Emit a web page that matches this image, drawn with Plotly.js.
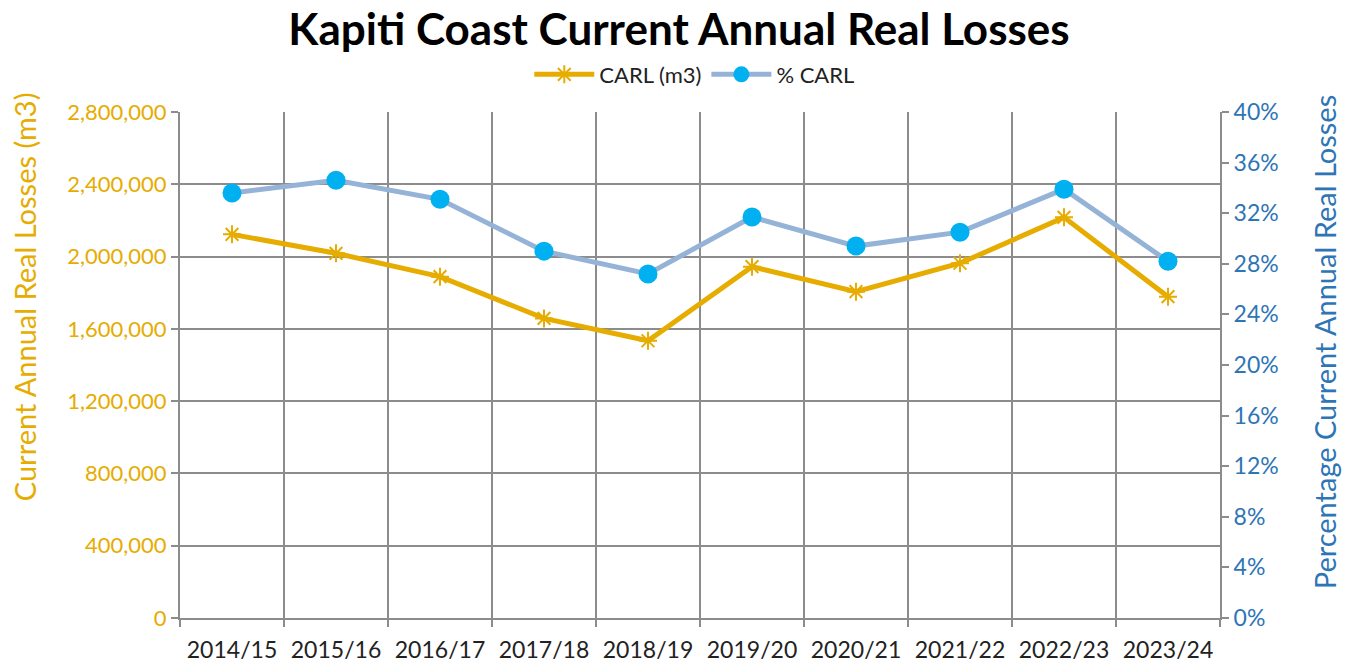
<!DOCTYPE html>
<html>
<head>
<meta charset="utf-8">
<script src="https://cdn.plot.ly/plotly-3.0.1.min.js"></script>
<style>
html,body{margin:0;padding:0;background:#fff;}
#chart{width:1358px;height:668px;}
</style>
</head>
<body>
<div id="chart"></div>
<script>
const years = ["2014/15","2015/16","2016/17","2017/18","2018/19","2019/20","2020/21","2021/22","2022/23","2023/24"];
const carl = [2123000, 2018000, 1889000, 1658000, 1534000, 1944000, 1806000, 1963000, 2217000, 1778000];
const pctCarl = [0.336, 0.346, 0.331, 0.290, 0.272, 0.317, 0.294, 0.305, 0.339, 0.282];
const leftTicks = [0, 400000, 800000, 1200000, 1600000, 2000000, 2400000, 2800000];
const rightTicks = [0, 0.04, 0.08, 0.12, 0.16, 0.20, 0.24, 0.28, 0.32, 0.36, 0.40];

const FONT = "Lato, 'Open Sans', sans-serif";
const GOLD = "#E6AC00";
const BLUE = "#2E75B6";
const GRID = "#8C8C8C";

const traces = [
  {
    x: years, y: carl, name: "CARL (m3)", type: "scatter", mode: "lines+markers",
    line: {color: GOLD, width: 5},
    marker: {symbol: "asterisk-open", size: 15, color: GOLD, line: {color: GOLD, width: 2}},
    yaxis: "y"
  },
  {
    x: years, y: pctCarl, name: "% CARL", type: "scatter", mode: "lines+markers",
    line: {color: "#95B3D7", width: 5},
    marker: {symbol: "circle", size: 19, color: "#00B0F0"},
    yaxis: "y2"
  }
];

const layout = {
  width: 1358, height: 668,
  paper_bgcolor: "#fff", plot_bgcolor: "#fff",
  margin: {l: 180, r: 138, t: 112, b: 50},
  font: {family: FONT, color: "#222"},
  title: {text: "<b>Kapiti Coast Current Annual Real Losses</b>", x: 0.5, xanchor: "center", y: 0.955, yanchor: "middle",
          font: {family: FONT, size: 44, color: "#000"}},
  showlegend: true,
  legend: {orientation: "h", x: 0.495, xanchor: "center", y: 1.074, yanchor: "middle",
           font: {family: FONT, size: 22, color: "#222"}, itemwidth: 60, bgcolor: "rgba(0,0,0,0)"},
  xaxis: {
    type: "category", tickmode: "array", tickvals: years, ticktext: years,
    tickson: "boundaries", showgrid: true, gridcolor: GRID, gridwidth: 2,
    showline: true, linecolor: GRID, linewidth: 2,
    ticks: "outside", ticklen: 7, tickcolor: GRID, tickwidth: 2,
    tickangle: 0, ticklabelstandoff: 10,
    tickfont: {family: FONT, size: 23, color: "#222"},
    range: [-0.5, 9.5], fixedrange: true, zeroline: false
  },
  yaxis: {
    range: [0, 2800000], tickmode: "array", tickvals: leftTicks,
    ticktext: leftTicks.map(v => v.toLocaleString("en-US")),
    showgrid: true, gridcolor: GRID, gridwidth: 2,
    showline: true, linecolor: GRID, linewidth: 2,
    ticks: "outside", ticklen: 7, tickcolor: GRID, tickwidth: 2,
    tickfont: {family: FONT, size: 22, color: GOLD},
    zeroline: false, fixedrange: true
  },
  yaxis2: {
    overlaying: "y", side: "right", range: [0, 0.40], tickmode: "array", tickvals: rightTicks,
    tickformat: ".0%", showgrid: false,
    showline: true, linecolor: GRID, linewidth: 2,
    ticks: "outside", ticklen: 7, tickcolor: GRID, tickwidth: 2,
    tickfont: {family: FONT, size: 23, color: BLUE},
    zeroline: false, fixedrange: true
  },
  annotations: [
    {text: "Current Annual Real Losses (m3)", xref: "paper", yref: "paper",
     x: -0.15, y: 0.634, xanchor: "center", yanchor: "middle", textangle: -90, showarrow: false,
     font: {family: FONT, size: 29, color: GOLD}},
    {text: "Percentage Current Annual Real Losses", xref: "paper", yref: "paper",
     x: 1.1, y: 0.545, xanchor: "center", yanchor: "middle", textangle: -90, showarrow: false,
     font: {family: FONT, size: 29, color: BLUE}}
  ]
};

Plotly.newPlot("chart", traces, layout, {displayModeBar: false, staticPlot: true});
</script>
</body>
</html>
